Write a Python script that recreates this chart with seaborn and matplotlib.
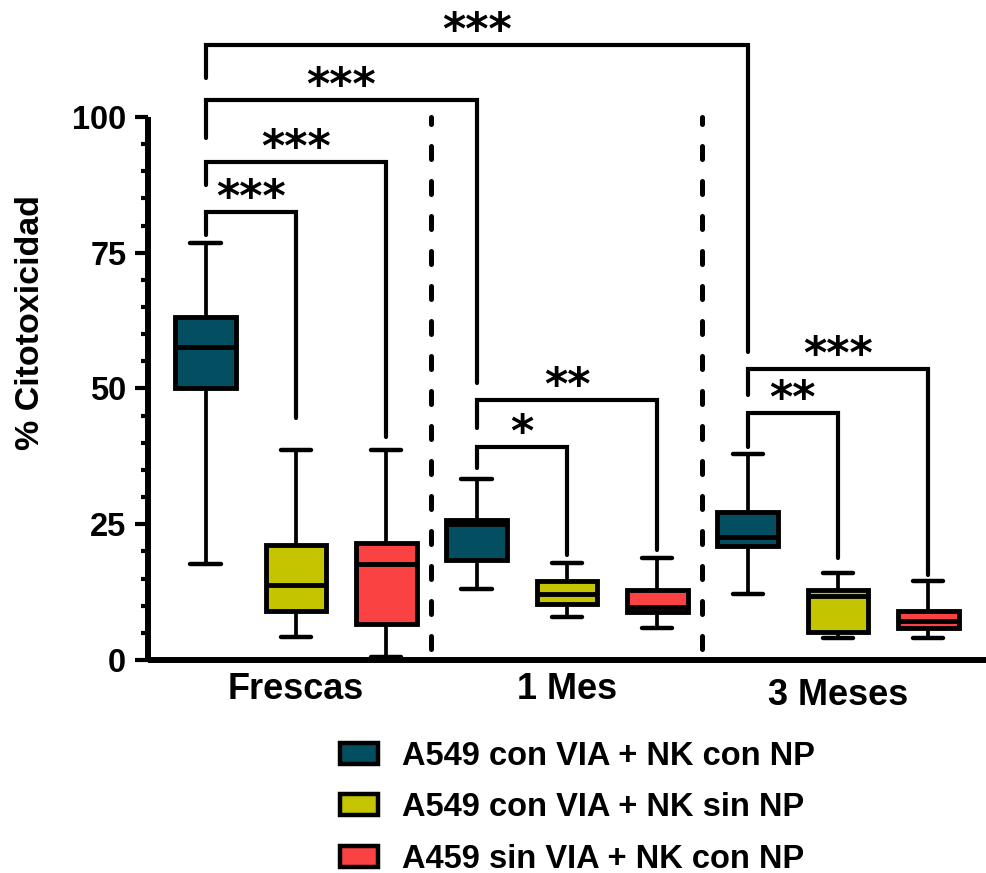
import matplotlib
matplotlib.use("Agg")
import matplotlib.pyplot as plt
import matplotlib.transforms as mtransforms
from matplotlib.patches import Patch
from matplotlib.ticker import MultipleLocator
import numpy as np
import pandas as pd
import seaborn as sns

# --- data: five-number summaries per box ---
groups = ["Frescas", "1 Mes", "3 Meses"]
series = ["A549 con VIA + NK con NP", "A549 con VIA + NK sin NP", "A459 sin VIA + NK con NP"]
colors = ["#034F61", "#C4C400", "#FA4242"]

# [min, q1, median, q3, max]
con_np = [[17.7, 50.1, 57.7, 63.2, 76.8],
          [13.1, 18.5, 25.0, 25.8, 33.3],
          [12.1, 20.9, 22.7, 27.3, 37.9]]
sin_np = [[4.3, 9.1, 13.9, 21.2, 38.7],
          [8.0, 10.4, 12.2, 14.6, 17.8],
          [4.1, 5.1, 11.8, 12.9, 16.0]]
sin_via = [[0.6, 6.6, 17.7, 21.6, 38.7],
           [5.8, 8.9, 9.7, 12.9, 18.8],
           [4.0, 5.8, 7.2, 9.1, 14.6]]

# significance brackets: (group_a, hue_a), (group_b, hue_b), bar y, leg ends, label
brackets = [
    ((0, 0), (2, 0), 113.3, 107.2, 56.7, "***"),
    ((0, 0), (1, 0), 103.1, 96.1, 51.0, "***"),
    ((0, 0), (0, 2), 91.7, 87.5, 41.1, "***"),
    ((0, 0), (0, 1), 82.5, 78.3, 44.6, "***"),
    ((1, 0), (1, 2), 47.9, 42.7, 20.3, "**"),
    ((1, 0), (1, 1), 39.2, 35.4, 19.3, "*"),
    ((2, 0), (2, 2), 53.6, 48.8, 15.7, "***"),
    ((2, 0), (2, 1), 45.5, 39.2, 18.8, "**"),
]

rows = []
for name, summ in zip(series, [con_np, sin_np, sin_via]):
    for g, vals in zip(groups, summ):
        for v in vals:
            rows.append({"grupo": g, "serie": name, "valor": v})
df = pd.DataFrame(rows)

sns.set_style("ticks")
plt.rcParams["font.family"] = ["Liberation Sans", "DejaVu Sans"]
plt.rcParams["font.weight"] = "bold"
for k in ("text.color", "axes.labelcolor", "xtick.color", "ytick.color", "axes.edgecolor"):
    plt.rcParams[k] = "black"

fig = plt.figure(figsize=(9.86, 8.73), dpi=100)
ax = fig.add_axes([0.150, 0.244, 0.850, 0.622])

sns.boxplot(data=df, x="grupo", y="valor", hue="serie", order=groups, hue_order=series,
            palette=colors, saturation=1, width=1.0, gap=0.33, whis=(0, 100),
            fliersize=0, linecolor="black", linewidth=3.5, legend=False, ax=ax,
            whiskerprops={"linewidth": 2.7}, capprops={"linewidth": 3.2},
            medianprops={"linewidth": 3.5})

offs = [-1 / 3, 0, 1 / 3]
for i in (0.5, 1.5):
    ax.plot([i, i], [100, 0], color="black", lw=3.6, linestyle=(1.2, (2.6, 4.4)),
            dash_capstyle="round", clip_on=False, zorder=3)

for (ga, ha), (gb, hb), ybar, ya, yb, lab in brackets:
    xa = ga + offs[ha]
    xb = gb + offs[hb]
    ax.plot([xa, xa, xb, xb], [ya, ybar, ybar, yb], color="black", lw=3.0,
            solid_joinstyle="miter", clip_on=False, zorder=4)
    ax.text((xa + xb) / 2, ybar + 0.2, lab, ha="center", va="baseline",
            fontsize=32, fontweight="bold", family=["DejaVu Sans"], clip_on=False)

ax.set_xlim(-0.546, 2.546)
ax.set_ylim(0, 100)
ax.yaxis.set_major_locator(MultipleLocator(25))
ax.yaxis.set_minor_locator(MultipleLocator(5))
ax.tick_params(axis="y", which="major", length=9.5, width=3, labelsize=23.5, pad=6)
ax.tick_params(axis="y", which="minor", length=5, width=3)
ax.tick_params(axis="x", length=0, labelsize=26, pad=9)
for lbl in ax.get_yticklabels() + ax.get_xticklabels():
    lbl.set_fontweight("bold")
# "3 Meses" sits a little lower in the original
xl = ax.get_xticklabels()[2]
xl.set_transform(xl.get_transform() + mtransforms.ScaledTranslation(0, -4 / 72, fig.dpi_scale_trans))

sns.despine(ax=ax)
for s in ("left", "bottom"):
    ax.spines[s].set_linewidth(4.3)
    ax.spines[s].set_capstyle("butt")

ax.set_xlabel("")
ax.set_ylabel("% Citotoxicidad", fontsize=24.5, fontweight="bold")
ax.yaxis.set_label_coords(-0.122, 0.622)

handles = [Patch(facecolor=c, edgecolor="black", linewidth=3.2, label=s)
           for c, s in zip(colors, series)]
fig.legend(handles=handles, loc="upper left", bbox_to_anchor=(0.345, 0.151),
           frameon=False, handlelength=1.15, handleheight=0.62,
           handletextpad=0.75, labelspacing=0.62, borderpad=0, borderaxespad=0,
           prop={"weight": "bold", "size": 23.5})

fig.savefig("out.png", dpi=100)
